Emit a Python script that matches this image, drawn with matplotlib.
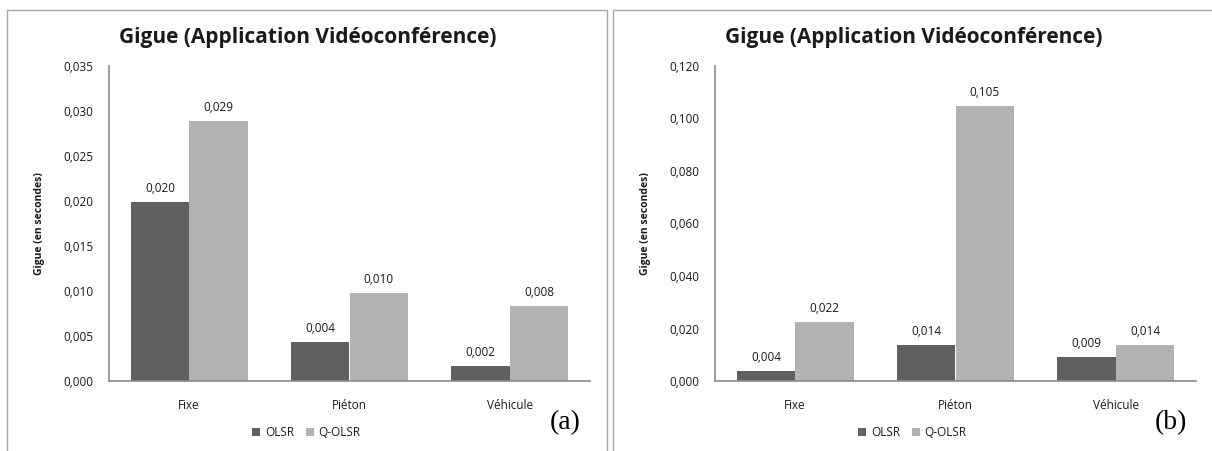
import matplotlib.pyplot as plt
import numpy as np
from matplotlib.patches import Rectangle

categories = ["Fixe", "Piéton", "Véhicule"]
series_names = ["OLSR", "Q-OLSR"]

# panel (a)
olsr_a = [0.0199, 0.0043, 0.0017]
qolsr_a = [0.0289, 0.0098, 0.0083]
# panel (b)
olsr_b = [0.0038, 0.0137, 0.0091]
qolsr_b = [0.0225, 0.1048, 0.0137]

yticks_a = [0.000, 0.005, 0.010, 0.015, 0.020, 0.025, 0.030, 0.035]
yticks_b = [0.000, 0.020, 0.040, 0.060, 0.080, 0.100, 0.120]

title = "Gigue (Application Vidéoconférence)"
ylabel = "Gigue (en secondes)"

plt.rcParams['font.family'] = ['Open Sans', 'DejaVu Sans']

W, H = 1212, 451
fig = plt.figure(figsize=(W / 100, H / 100), dpi=100)

dark = "#606060"
light = "#b2b2b2"
axis_col = "#8a8a8a"
txt = "#1a1a1a"


def fmt(v):
    return ("%.3f" % v).replace(".", ",")


def draw_panel(x0, olsr, qolsr, yticks, tag):
    # frame around the panel
    fig.add_artist(Rectangle((x0 / W, -0.05), 600 / W, (H - 10) / H + 0.05,
                             transform=fig.transFigure, fill=False,
                             edgecolor="#a6a6a6", lw=1.0))
    ax = fig.add_axes([(x0 + 102) / W, 70 / H, 481 / W, 315 / H])
    x = np.arange(len(categories))
    w = 0.365
    b1 = ax.bar(x - w / 2, olsr, w, color=dark, label=series_names[0])
    b2 = ax.bar(x + w / 2, qolsr, w, color=light, label=series_names[1])
    for bars, vals in ((b1, olsr), (b2, qolsr)):
        for r, v in zip(bars, vals):
            ax.annotate(fmt(v), (r.get_x() + r.get_width() / 2, v),
                        xytext=(0, 5), textcoords="offset points",
                        ha="center", va="bottom", fontsize=8.5, color=txt)
    ax.set_xlim(-0.5, len(categories) - 0.5)
    ax.set_ylim(yticks[0], yticks[-1])
    ax.set_yticks(yticks)
    ax.set_yticklabels([fmt(t) for t in yticks], fontsize=8.5, color=txt)
    ax.set_xticks(x)
    ax.set_xticklabels(categories, fontsize=8.5, color=txt)
    ax.tick_params(length=0, pad=13, axis="x")
    ax.tick_params(length=0, pad=11, axis="y")
    for s in ("top", "right"):
        ax.spines[s].set_visible(False)
    for s in ("left", "bottom"):
        ax.spines[s].set_color(axis_col)
        ax.spines[s].set_linewidth(1.2)
    ax.set_ylabel(ylabel, fontsize=7.5, fontweight="bold", color=txt)
    ax.yaxis.set_label_coords(-64 / 481, 0.5)
    fig.text((x0 + 301) / W, 1 - 37 / H, title, ha="center", va="center",
             fontsize=15, fontweight="bold", color=txt)
    ax.legend(loc="center", bbox_to_anchor=(0.41, -0.165), ncol=2,
              frameon=False, fontsize=8.5, handlelength=0.7, handleheight=0.7,
              handletextpad=0.4, columnspacing=1.0, labelcolor=txt)
    fig.text((x0 + 558) / W, 1 - 423 / H, tag, ha="center", va="center",
             fontsize=20, family="Liberation Serif", color="black")


draw_panel(7, olsr_a, qolsr_a, yticks_a, "(a)")
draw_panel(613, olsr_b, qolsr_b, yticks_b, "(b)")

fig.savefig("out.png", dpi=100)
